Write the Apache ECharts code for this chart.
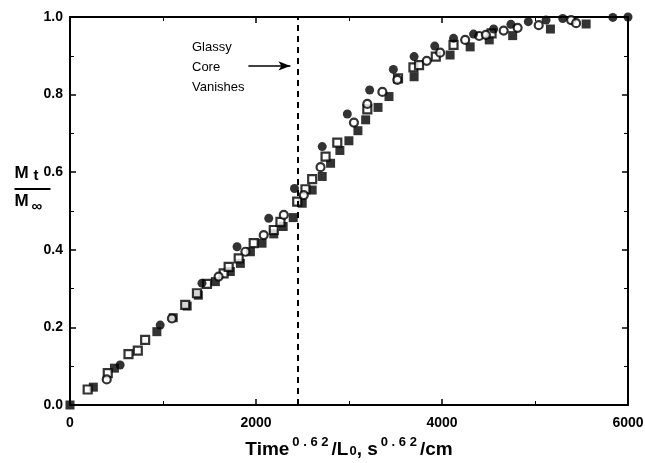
<!DOCTYPE html>
<html>
<head>
    <meta charset="utf-8">
    <title>Mt/Minf vs Time^0.62/L0</title>
    <script src="https://cdn.jsdelivr.net/npm/echarts@6/dist/echarts.min.js"></script>
</head>
<body style="margin:0;background:#fff">
    <div id="container" style="width:645px;height:463px;"></div>
    <script type="text/javascript">
        // data: [Time^0.62/L0, Mt/Minf]
        var filledCircles = [
            [539, 0.103], [970, 0.206], [1419, 0.314], [1796, 0.408], [2137, 0.481],
            [2414, 0.558], [2712, 0.666], [2982, 0.750], [3222, 0.812], [3477, 0.865],
            [3700, 0.898], [3922, 0.925], [4124, 0.945], [4339, 0.956], [4555, 0.969],
            [4741, 0.981], [4928, 0.988], [5119, 0.992], [5298, 0.996], [5837, 0.999],
            [6000, 1.0]
        ];
        var openCircles = [
            [395, 0.066], [1096, 0.223], [1598, 0.331], [1886, 0.395], [2083, 0.438],
            [2299, 0.490], [2514, 0.541], [2694, 0.613], [3053, 0.728], [3197, 0.776],
            [3359, 0.807], [3520, 0.838], [3836, 0.887], [3980, 0.908], [4249, 0.941],
            [4400, 0.951], [4472, 0.954], [4663, 0.965], [4813, 0.972], [5040, 0.979],
            [5388, 0.992], [5442, 0.984]
        ];
        var openSquares = [
            [190, 0.040], [406, 0.082], [629, 0.131], [729, 0.140], [808, 0.168],
            [1239, 0.258], [1365, 0.288], [1473, 0.312], [1652, 0.339], [1706, 0.356],
            [1814, 0.378], [1975, 0.417], [2191, 0.451], [2263, 0.472], [2443, 0.524],
            [2532, 0.556], [2604, 0.582], [2748, 0.640], [2874, 0.676], [3197, 0.762],
            [3527, 0.842], [3693, 0.870], [3753, 0.876], [3933, 0.898], [4124, 0.928],
            [4533, 0.958]
        ];
        var filledSquares = [
            [0, 0], [251, 0.046], [478, 0.095], [934, 0.189], [1110, 0.225],
            [1260, 0.255], [1380, 0.283], [1563, 0.318], [1724, 0.344], [1832, 0.365],
            [1940, 0.395], [2065, 0.417], [2191, 0.441], [2292, 0.460], [2400, 0.483],
            [2497, 0.520], [2604, 0.554], [2712, 0.589], [2802, 0.623], [2902, 0.656],
            [2999, 0.681], [3096, 0.707], [3179, 0.735], [3312, 0.767], [3430, 0.795],
            [3700, 0.846], [4087, 0.902], [4303, 0.923], [4508, 0.941], [4760, 0.952],
            [5166, 0.969], [5550, 0.982]
        ];
        var coreVanishX = 2450;              // dashed line
        var arrowFrom = [1918, 0.874], arrowTo = [2370, 0.874];

        var myChart = echarts.init(document.getElementById('container'));
        var font = 'Liberation Sans, Arial, sans-serif';
        var axisLine = {show: true, onZero: false, lineStyle: {color: '#000', width: 2}};
        var tick = {inside: true, length: 6, lineStyle: {color: '#000', width: 1.5}};
        var minor = {show: true, splitNumber: 2, length: 4, lineStyle: {color: '#000'}};

        var option = {
            animation: false,
            grid: {left: 70, right: 17, top: 17, bottom: 58, outerBoundsMode: 'none', containLabel: false},
            xAxis: [
                {
                    type: 'value', min: 0, max: 6000, interval: 2000,
                    axisLine: axisLine, axisTick: tick, minorTick: minor,
                    splitLine: {show: false},
                    axisLabel: {
                        color: '#000', fontFamily: font, fontWeight: 'bold', fontSize: 14, margin: 11,
                        formatter: function (v) { return String(v); }
                    },
                    name: '{b|Time}{s|0 . 6 2}{b|/L}{sub|0}{b|, s}{s|0 . 6 2}{b|/cm}',
                    nameLocation: 'middle', nameGap: 31,
                    nameTextStyle: {
                        rich: {
                            b: {fontFamily: font, fontWeight: 'bold', fontSize: 19, color: '#000', verticalAlign: 'bottom'},
                            s: {fontFamily: font, fontWeight: 'bold', fontSize: 13, color: '#000', verticalAlign: 'top', padding: [0, 3, 10, 3]},
                            sub: {fontFamily: font, fontWeight: 'bold', fontSize: 13, color: '#000', padding: [8, 0, 0, 1]}
                        }
                    }
                },
                {
                    type: 'value', min: 0, max: 6000, interval: 2000, position: 'top',
                    axisLine: axisLine, axisTick: tick, minorTick: minor,
                    splitLine: {show: false}, axisLabel: {show: false}
                }
            ],
            yAxis: [
                {
                    type: 'value', min: 0, max: 1, interval: 0.2,
                    axisLine: axisLine, axisTick: tick, minorTick: minor,
                    splitLine: {show: false},
                    axisLabel: {
                        color: '#000', fontFamily: font, fontWeight: 'bold', fontSize: 14, margin: 7,
                        formatter: function (v) { return v.toFixed(1); }
                    }
                },
                {
                    type: 'value', min: 0, max: 1, interval: 0.2, position: 'right',
                    axisLine: axisLine, axisTick: tick, minorTick: minor,
                    splitLine: {show: false}, axisLabel: {show: false}
                }
            ],
            graphic: [
                {
                    type: 'text', left: 192, top: 37,
                    style: {text: 'Glassy\nCore\nVanishes', font: '13px ' + font, fill: '#000', lineHeight: 20, align: 'center'}
                },
                {
                    type: 'group', left: 12, top: 165,
                    children: [
                        {type: 'text', x: 0, y: 0, style: {text: 'M', font: 'bold 17px ' + font, fill: '#000'}},
                        {type: 'text', x: 19, y: 3, style: {text: 't', font: 'bold 15px ' + font, fill: '#000'}},
                        {type: 'line', shape: {x1: 0, y1: 24, x2: 36, y2: 24}, style: {stroke: '#000', lineWidth: 2}},
                        {type: 'text', x: 0, y: 28, style: {text: 'M', font: 'bold 17px ' + font, fill: '#000'}},
                        {type: 'text', x: 17, y: 34, style: {text: '∞', font: 'bold 15px ' + font, fill: '#000'}}
                    ]
                }
            ],
            series: [
                {
                    name: 'filled squares', type: 'scatter', symbol: 'rect', symbolSize: 9,
                    itemStyle: {color: '#000'}, data: filledSquares,
                    markLine: {
                        silent: true, symbol: ['none', 'none'], label: {show: false},
                        lineStyle: {color: '#000', type: [6, 5], width: 2},
                        data: [{xAxis: coreVanishX}]
                    }
                },
                {
                    name: 'open squares', type: 'scatter', symbol: 'rect', symbolSize: 8,
                    itemStyle: {color: '#fff', borderColor: '#000', borderWidth: 2.2}, data: openSquares,
                    markLine: {
                        silent: true, symbol: ['none', 'arrow'], symbolSize: [7, 12], label: {show: false},
                        lineStyle: {color: '#000', type: 'solid', width: 1.5},
                        data: [[{coord: arrowFrom}, {coord: arrowTo}]]
                    }
                },
                {
                    name: 'open circles', type: 'scatter', symbol: 'circle', symbolSize: 8,
                    itemStyle: {color: '#fff', borderColor: '#000', borderWidth: 2.2}, data: openCircles
                },
                {
                    name: 'filled circles', type: 'scatter', symbol: 'circle', symbolSize: 9,
                    itemStyle: {color: '#000'}, data: filledCircles
                }
            ]
        };

        myChart.setOption(option);
    </script>
</body>
</html>
